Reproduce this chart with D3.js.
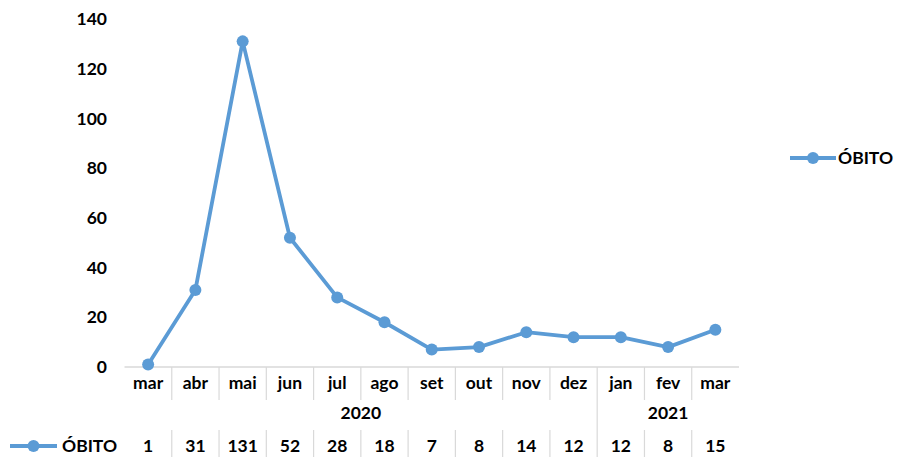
<!DOCTYPE html>
<html>
<head>
<meta charset="utf-8">
<script src="https://cdn.jsdelivr.net/npm/d3@7"></script>
<style>
  body { margin: 0; background: #fff; }
  text { font-family: Lato, "Open Sans", sans-serif; font-weight: bold; fill: #000; }
</style>
</head>
<body>
<div id="chart"></div>
<script>
const months = ["mar", "abr", "mai", "jun", "jul", "ago", "set", "out", "nov", "dez", "jan", "fev", "mar"];
const years = ["2020", "2020", "2020", "2020", "2020", "2020", "2020", "2020", "2020", "2020", "2021", "2021", "2021"];
const obito = [1, 31, 131, 52, 28, 18, 7, 8, 14, 12, 12, 8, 15];
const yTicks = [0, 20, 40, 60, 80, 100, 120, 140];
const seriesName = "ÓBITO";

const width = 897, height = 457;
const margin = { top: 19, left: 124.5, right: 158 };
const axisY = 367;
const blue = "#5b9bd5";
const grey = "#d9d9d9";
const fs = "17.5px";

const svg = d3.select("#chart").append("svg")
  .attr("width", width).attr("height", height);

const idx = d3.range(months.length);
const x = d3.scaleBand().domain(idx).range([margin.left, width - margin.right]);
const y = d3.scaleLinear().domain([0, 140]).range([axisY, margin.top]);
const cx = i => x(i) + x.bandwidth() / 2;

// y labels
svg.append("g").selectAll("text").data(yTicks).join("text")
  .attr("x", 107).attr("y", d => y(d)).attr("dy", "0.35em")
  .attr("text-anchor", "end").style("font-size", fs).text(d => d);

// axis line
svg.append("line").attr("x1", x.range()[0]).attr("x2", x.range()[1])
  .attr("y1", axisY).attr("y2", axisY).attr("stroke", grey).attr("stroke-width", 1.5);

// table separators between months
const seps = idx.slice(1);
svg.append("g").selectAll("line").data(seps).join("line")
  .attr("x1", d => x(d)).attr("x2", d => x(d))
  .attr("y1", axisY).attr("y2", d => years[d] !== years[d - 1] ? height : 400)
  .attr("stroke", grey).attr("stroke-width", 1.2);
svg.append("g").selectAll("line").data(seps.filter(d => years[d] === years[d - 1])).join("line")
  .attr("x1", d => x(d)).attr("x2", d => x(d))
  .attr("y1", 430).attr("y2", height)
  .attr("stroke", grey).attr("stroke-width", 1.2);

// month labels
svg.append("g").selectAll("text").data(idx).join("text")
  .attr("x", cx).attr("y", 383).attr("dy", "0.35em")
  .attr("text-anchor", "middle").style("font-size", fs).text(i => months[i]);

// year labels
const yearGroups = d3.groups(idx, i => years[i]);
svg.append("g").selectAll("text").data(yearGroups).join("text")
  .attr("x", d => (x(d[1][0]) + x(d[1][d[1].length - 1]) + x.bandwidth()) / 2)
  .attr("y", 413).attr("dy", "0.35em")
  .attr("text-anchor", "middle").style("font-size", fs).text(d => d[0]);

// data table values
svg.append("g").selectAll("text").data(idx).join("text")
  .attr("x", cx).attr("y", 446).attr("dy", "0.35em")
  .attr("text-anchor", "middle").style("font-size", fs).text(i => obito[i]);

// series line
svg.append("path").datum(idx)
  .attr("d", d3.line().x(cx).y(i => y(obito[i])))
  .attr("fill", "none").attr("stroke", blue).attr("stroke-width", 3.8)
  .attr("stroke-linejoin", "round");
svg.append("g").selectAll("circle").data(idx).join("circle")
  .attr("cx", cx).attr("cy", i => y(obito[i])).attr("r", 6).attr("fill", blue);

// legend keys
function legendKey(x0, x1, yy, tx) {
  const g = svg.append("g");
  g.append("line").attr("x1", x0).attr("x2", x1).attr("y1", yy).attr("y2", yy)
    .attr("stroke", blue).attr("stroke-width", 3.8);
  g.append("circle").attr("cx", (x0 + x1) / 2).attr("cy", yy).attr("r", 6).attr("fill", blue);
  g.append("text").attr("x", tx).attr("y", yy).attr("dy", "0.35em")
    .style("font-size", fs).text(seriesName);
}
legendKey(790, 836, 158, 838);
legendKey(10, 57, 446, 62);
</script>
</body>
</html>
